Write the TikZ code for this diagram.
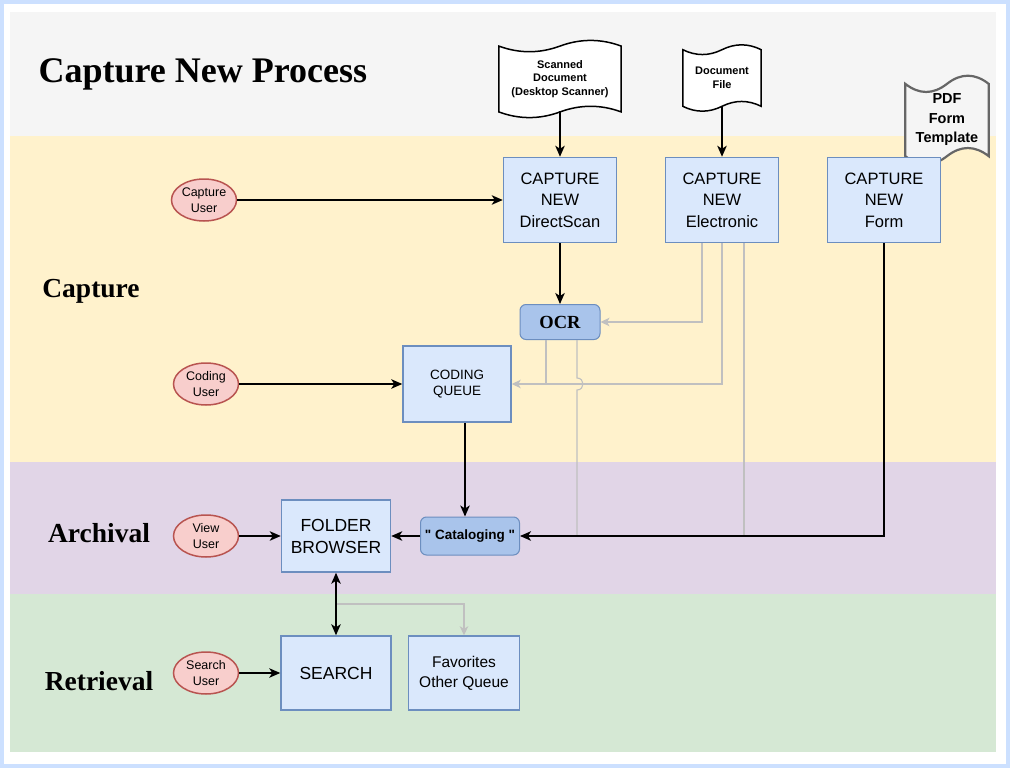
\documentclass[tikz,border=0pt]{standalone}
\usepackage{fontspec}
\setmainfont{Liberation Sans}
\newfontfamily\timesfont{Liberation Serif}
\usetikzlibrary{arrows.meta,positioning,shapes.geometric,calc}

\definecolor{frameblue}{HTML}{CCE0FF}
\definecolor{lanetop}{HTML}{F5F5F5}
\definecolor{lanecap}{HTML}{FFF2CC}
\definecolor{lanearc}{HTML}{E1D5E7}
\definecolor{laneret}{HTML}{D5E8D4}
\definecolor{boxfill}{HTML}{DAE8FC}
\definecolor{boxline}{HTML}{6C8EBF}
\definecolor{hubfill}{HTML}{A9C4EB}
\definecolor{userfill}{HTML}{F8CECC}
\definecolor{userline}{HTML}{B85450}
\definecolor{feedgray}{HTML}{C0C0C0}
\definecolor{pdfline}{HTML}{666666}

\pgfdeclarelayer{bg}
\pgfsetlayers{bg,main}

% wavy paper outline round a node: node, wave size, style
\newcommand{\tapeframe}[3]{%
  \path[#3] let \p1=(#1.north west), \p2=(#1.south east),
    \n1={\x2-\x1}, \n2={#2*(\y1-\y2)} in
    (\x1,\y1-0.5*\n2) .. controls (\x1+\n1/6,\y1-1.1*\n2) and (\x1+\n1/3,\y1-1.1*\n2) .. (\x1+0.5*\n1,\y1-0.5*\n2)
    .. controls (\x1+2*\n1/3,\y1+0.1*\n2) and (\x1+5*\n1/6,\y1+0.1*\n2) .. (\x2,\y1-0.5*\n2)
    -- (\x2,\y2+0.5*\n2)
    .. controls (\x2-\n1/6,\y2+1.1*\n2) and (\x2-\n1/3,\y2+1.1*\n2) .. (\x1+0.5*\n1,\y2+0.5*\n2)
    .. controls (\x1+\n1/3,\y2-0.1*\n2) and (\x1+\n1/6,\y2-0.1*\n2) .. (\x1,\y2+0.5*\n2) -- cycle;
}

\begin{document}
\begin{tikzpicture}[
  x=1pt, y=-1pt,
  stage/.style={draw=boxline, fill=boxfill, line width=1.5pt, align=center, minimum width=113pt, minimum height=85pt, inner sep=2pt, font=\fontsize{16.5}{21.5}\selectfont},
  hub/.style={draw=boxline, fill=hubfill, rounded corners=6pt, line width=1pt, align=center, inner sep=2pt},
  actor/.style={ellipse, draw=userline, fill=userfill, line width=1.5pt, minimum width=65pt, minimum height=42pt, inner sep=0pt, align=center, font=\fontsize{12.5}{16}\selectfont},
  doc/.style={align=center, inner sep=0pt, font=\bfseries\fontsize{11}{13.5}\selectfont},
  lane/.style={font=\timesfont\bfseries\fontsize{27.5}{30}\selectfont},
  flow/.style={-{Stealth[length=11pt,width=9.5pt,inset=3pt]}, line width=1.5pt},
  feed/.style={-{Stealth[length=9pt,width=8.5pt,inset=2.5pt]}, draw=feedgray, line width=1.1pt},
  both/.style={{Stealth[length=11pt,width=9.5pt,inset=3pt]}-{Stealth[length=11pt,width=9.5pt,inset=3pt]}, line width=1.5pt}
]
\useasboundingbox (0,0) rectangle (1010,768);
\begin{pgfonlayer}{bg}
\fill[frameblue] (0,0) rectangle (1010,768);
\fill[white] (4,4) rectangle (1006,764);
\fill[lanetop] (10,12) rectangle (996,136);
\fill[lanecap] (10,136) rectangle (996,462);
\fill[lanearc] (10,462) rectangle (996,594);
\fill[laneret] (10,594) rectangle (996,752);
\end{pgfonlayer}

% titles
\node[anchor=base west, font=\timesfont\bfseries\fontsize{36}{40}\selectfont] (title) at (35,82) {Capture New Process};
\node[lane] (capture) at (91,291) {Capture};
\node[lane] (archival) at (99,533) {Archival};
\node[lane] (retrieval) at (99,681) {Retrieval};

% sources
\node[doc, minimum width=122pt, minimum height=78pt] (scan) at (560,79) {Scanned\\Document\\(Desktop Scanner)};
\node[doc, minimum width=78pt, minimum height=67pt] (file) at (722,78) {Document\\File};
\node[doc, minimum width=83pt, minimum height=90pt, font=\bfseries\fontsize{14.5}{19.5}\selectfont] (pdf) at (947,120) {PDF\\Form\\Template};
\begin{pgfonlayer}{bg}
\tapeframe{scan}{0.16}{draw=black, fill=white, line width=1.5pt}
\tapeframe{file}{0.16}{draw=black, fill=white, line width=1.5pt}
\tapeframe{pdf}{0.2}{draw=pdfline, fill=lanetop, line width=2.2pt}
\end{pgfonlayer}

% capture lane
\node[stage] (scancap) at (560,200) {CAPTURE\\NEW\\DirectScan};
\node[stage] (elec) at (722,200) {CAPTURE\\NEW\\Electronic};
\node[stage] (form) at (884,200) {CAPTURE\\NEW\\Form};
\node[actor] (capuser) at (204,200) {Capture\\User};
\node[hub, minimum width=80pt, minimum height=35pt, font=\timesfont\bfseries\fontsize{18.5}{20}\selectfont] (ocr) at (560,322) {OCR};
\node[stage, minimum width=108pt, minimum height=76pt, font=\fontsize{13.5}{16}\selectfont] (coding) at (457,384) {CODING\\QUEUE};
\node[actor] (codeuser) at (206,384) {Coding\\User};

% archival and retrieval lanes
\node[hub, minimum width=99pt, minimum height=38pt, font=\bfseries\fontsize{13.5}{16}\selectfont] (catalog) at (470,536) {\textquotedbl{} Cataloging \textquotedbl};
\node[stage, minimum width=109pt, minimum height=72pt, font=\fontsize{17.5}{22}\selectfont] (folder) at (336,536) {FOLDER\\BROWSER};
\node[actor] (viewuser) at (206,536) {View\\User};
\node[stage, minimum width=110pt, minimum height=74pt, font=\fontsize{17.5}{22}\selectfont] (search) at (336,673) {SEARCH};
\node[stage, minimum width=111pt, minimum height=74pt, font=\fontsize{15.5}{20}\selectfont] (fav) at (464,673) {Favorites\\Other Queue};
\node[actor] (searchuser) at (206,673) {Search\\User};

% gray feeds
\coordinate (e1) at ($(elec.south)+(-20,0)$);
\coordinate (e3) at ($(elec.south)+(22,0)$);
\coordinate (o1) at ($(ocr.south)+(-14,0)$);
\coordinate (o2) at ($(ocr.south)+(17,0)$);
\coordinate (jmp) at (o2 |- coding.east);
\draw[feed] (e1) |- (ocr.east);
\draw[feed] (elec.south) |- (coding.east);
\draw[feed, -] (e3) -- (e3 |- catalog.east);
\draw[feed, -] (o1) -- (o1 |- coding.east);
\draw[feed, -] (o2) -- ($(jmp)+(0,-6)$) .. controls +(8,0) and +(8,0) .. ++(0,12) -- (o2 |- catalog.east);
\coordinate (split) at ($(folder.south)!0.5!(search.north)$);
\draw[feed] (split) -| (fav.north);

% main flow
\coordinate (c1) at ($(coding.south)+(8,0)$);
\draw[flow] ($(scan.south)+(0,-7)$) -- (scancap.north);
\draw[flow] ($(file.south)+(0,-5)$) -- (elec.north);
\draw[flow] (capuser) -- (scancap);
\draw[flow] (scancap) -- (ocr);
\draw[flow] (codeuser) -- (coding);
\draw[flow] (c1) -- (c1 |- catalog.north);
\draw[flow] (form.south) |- (catalog.east);
\draw[flow] (catalog) -- (folder);
\draw[flow] (viewuser) -- (folder);
\draw[both] (folder) -- (search);
\draw[flow] (searchuser) -- (search);
\end{tikzpicture}
\end{document}
